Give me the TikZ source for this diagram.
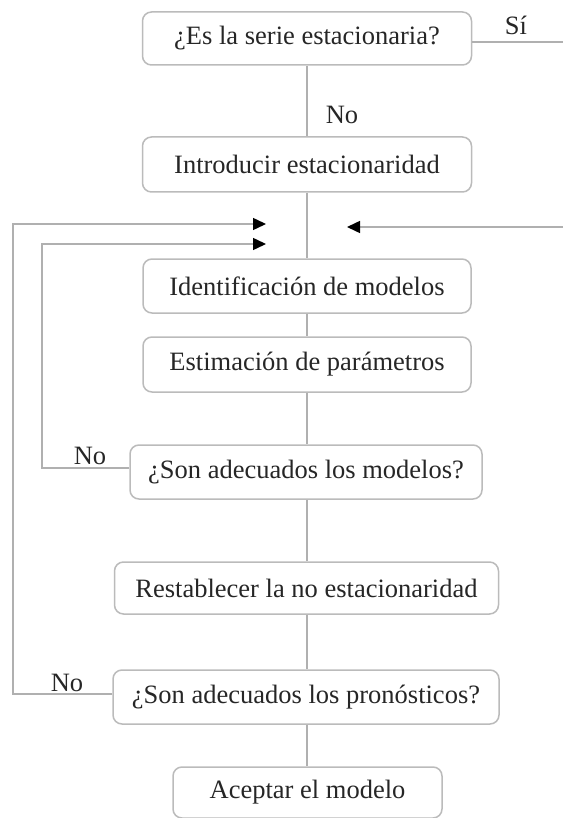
\documentclass[tikz,border=0pt]{standalone}
\usepackage{fontspec}
\setmainfont{Liberation Serif}
\usetikzlibrary{arrows.meta}
\definecolor{linegray}{HTML}{B0B0B0}
\definecolor{boxgray}{HTML}{BBBBBB}
\definecolor{txt}{HTML}{262626}
\begin{document}
\begin{tikzpicture}[x=1pt,y=-1pt,
  stepbox/.style={draw=boxgray,line width=1.5pt,rounded corners=9pt,fill=white,
    minimum height=53pt,inner sep=0pt,text=txt,font=\fontsize{26.5}{30}\selectfont},
  conn/.style={draw=linegray,line width=1.5pt},
  arr/.style={conn,-{Triangle[length=13pt,width=12pt,color=black]}},
  lbl/.style={text=txt,font=\fontsize{26.5}{30}\selectfont,inner sep=0pt}]
\useasboundingbox (0,0) rectangle (563,818);
\node[stepbox,minimum width=329pt] (b1) at (307,38.5) {¿Es la serie estacionaria?};
\node[stepbox,minimum width=329pt,minimum height=55pt] (b2) at (307,164.5) {Introducir estacionaridad};
\node[stepbox,minimum width=328pt,minimum height=54pt] (b3) at (307,286) {Identificación de modelos};
\node[stepbox,minimum width=328pt,minimum height=55pt] (b4) at (307,364.5) {Estimación de parámetros};
\node[stepbox,minimum width=352pt,minimum height=54pt] (b5) at (306,472) {¿Son adecuados los modelos?};
\node[stepbox,minimum width=384pt,minimum height=52pt] (b6) at (306.5,588) {Restablecer la no estacionaridad};
\node[stepbox,minimum width=386pt,minimum height=54pt] (b7) at (306,697) {¿Son adecuados los pronósticos?};
\node[stepbox,minimum width=269pt,minimum height=51pt] (b8) at (307.5,792.5) {Aceptar el modelo};
% main spine
\draw[conn] (b1.south) -- (b1.south |- b2.north);
\draw[conn] (b1.south |- b2.south) -- (b1.south |- b3.north);
\draw[conn] (b1.south |- b3.south) -- (b1.south |- b4.north);
\draw[conn] (b1.south |- b4.south) -- (b1.south |- b5.north);
\draw[conn] (b1.south |- b5.south) -- (b1.south |- b6.north);
\draw[conn] (b1.south |- b6.south) -- (b1.south |- b7.north);
\draw[conn] (b1.south |- b7.south) -- (b1.south |- b8.north);
% Si branch
\coordinate (siend) at (563,42);
\draw[conn] (b1.east |- siend) -- (siend);
\node[lbl] (si) at (516,25) {Sí};
\node[lbl] (no1) at (342,115) {No};
% return from right
\coordinate (rstart) at (563,227);
\coordinate (rtip) at (347,227);
\draw[arr] (rstart) -- (rtip);
% loops
\coordinate (t1) at (266,224);
\coordinate (t2) at (266,244);
\coordinate (o1) at (13,694);
\coordinate (i1) at (42,468);
\draw[arr] (b7.west |- o1) -- (o1) -- (o1 |- t1) -- (t1);
\draw[arr] (b5.west |- i1) -- (i1) -- (i1 |- t2) -- (t2);
\node[lbl] (no2) at (90,456) {No};
\node[lbl] (no3) at (67,683) {No};
\end{tikzpicture}
\end{document}
